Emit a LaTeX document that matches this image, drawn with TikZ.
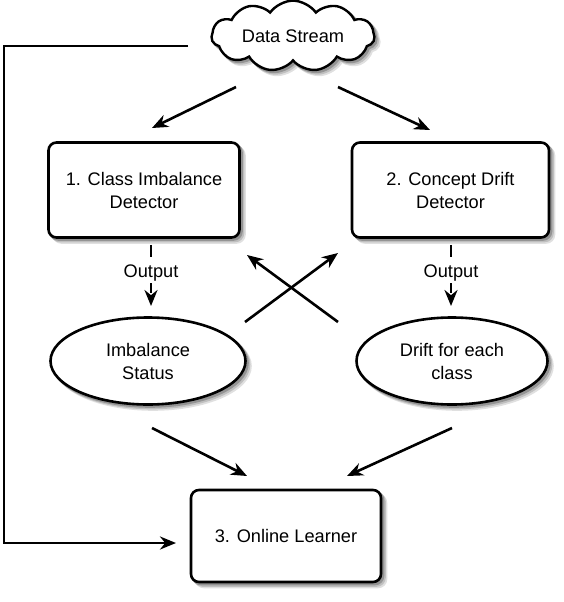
\documentclass[tikz,border=0pt]{standalone}
\usepackage{fontspec}
\setmainfont{Liberation Sans}
\usetikzlibrary{shapes.symbols,shapes.geometric,arrows.meta}
\begin{document}
\begin{tikzpicture}[x=1pt,y=-1pt,
  txt/.style={font=\fontsize{18.2}{23}\selectfont, align=center},
  box/.style={txt, draw=black, line width=2.6pt, rounded corners=8pt, fill=white},
  oval/.style={txt, ellipse, draw=black, line width=2.6pt, fill=white, inner sep=0pt},
  cld/.style={cloud, cloud puffs=11, cloud puff arc=110, aspect=2.8, line width=2.4pt,
      minimum width=163pt, minimum height=60pt, txt, inner sep=0pt},
  sh1/.style={fill=black!12, draw=black!12},
  sh2/.style={fill=black!25, draw=black!25},
  sh3/.style={fill=black!42, draw=black!42},
  arr/.style={line width=2.6pt, -{Stealth[length=16pt,width=13pt]}},
  darr/.style={arr, dash pattern=on 12pt off 6pt},
  lbl/.style={txt, fill=white, inner sep=2pt}
]
\useasboundingbox (0,0) rectangle (564,602);

% shadows (drawn first)
\foreach \d/\s in {5/sh1,3.5/sh2,2/sh3}{
  \node[cld, \s] (dsh\s) at (293+\d,36+\d) {\phantom{Data Stream}};
  \node[box, \s, minimum width=191pt, minimum height=95pt] (b1h\s) at (144+\d,190+\d) {};
  \node[box, \s, minimum width=197pt, minimum height=95pt] (b2h\s) at (450.5+\d,190+\d) {};
  \node[oval, \s, minimum width=195pt, minimum height=87pt] (e1h\s) at (148+\d,361+\d) {};
  \node[oval, \s, minimum width=191pt, minimum height=87pt] (e2h\s) at (452+\d,361+\d) {};
  \node[box, \s, minimum width=190pt, minimum height=92pt] (olh\s) at (286+\d,536+\d) {};
}

\node[cld, draw=black, fill=white] (ds) at (293,36) {Data Stream};

\node[box, minimum width=191pt, minimum height=95pt] (b1) at (144,190) {1. Class Imbalance\\Detector};
\node[box, minimum width=197pt, minimum height=95pt] (b2) at (450.5,190) {2. Concept Drift\\Detector};

\node[oval, minimum width=195pt, minimum height=87pt] (e1) at (148,361) {Imbalance\\Status};
\node[oval, minimum width=191pt, minimum height=87pt] (e2) at (452,361) {Drift for each\\class};

\node[box, minimum width=190pt, minimum height=92pt] (ol) at (286,536) {3. Online Learner};

% cloud arrows
\coordinate (c1s) at (236,87);
\coordinate (c1e) at (152,128);
\coordinate (c2s) at (338,87);
\coordinate (c2e) at (430,130);
\draw[arr] (c1s) -- (c1e);
\draw[arr] (c2s) -- (c2e);

% output arrows
\coordinate (o1e) at (151,306);
\coordinate (o2e) at (451,306);
\draw[darr] (b1.south -| o1e) ++(0,6) -- (o1e);
\draw[darr] (b2.south -| o2e) ++(0,6) -- (o2e);
\node[lbl] (out1) at (151,273) {Output};
\node[lbl] (out2) at (451,273) {Output};

% cross arrows
\coordinate (x1s) at (245,322);
\coordinate (x1e) at (338,253);
\coordinate (x2s) at (338,322);
\coordinate (x2e) at (247,255);
\draw[arr] (x1s) -- (x1e);
\draw[arr] (x2s) -- (x2e);

% arrows to learner
\coordinate (l1s) at (152,428);
\coordinate (l1e) at (247,476);
\coordinate (l2s) at (452,428);
\coordinate (l2e) at (347,476);
\draw[arr] (l1s) -- (l1e);
\draw[arr] (l2s) -- (l2e);

% feedback
\coordinate (fbs) at (188,46);
\coordinate (fbe) at (176,543);
\draw[line width=2.8pt, -{Stealth[length=16pt,width=13pt]}] (fbs) -- (4,46) -- (4,543) -- (fbe);
\end{tikzpicture}
\end{document}
